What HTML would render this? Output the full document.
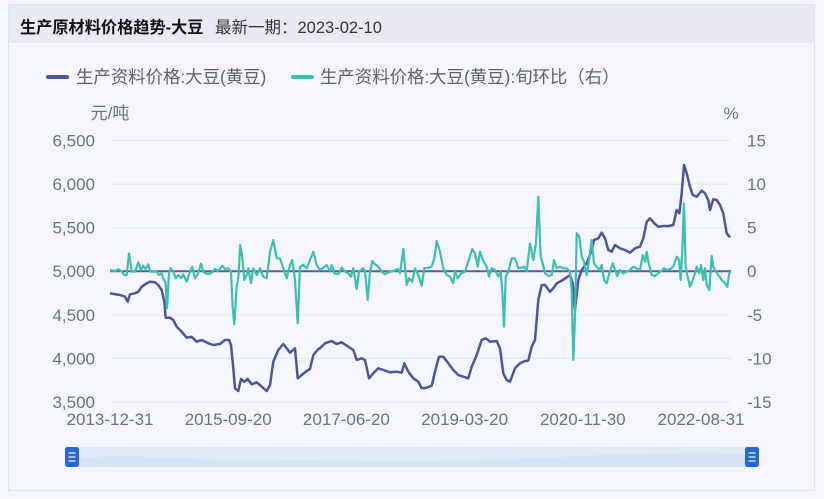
<!DOCTYPE html>
<html><head><meta charset="utf-8">
<style>
html,body{margin:0;padding:0;background:#f5f6fd;}
body{width:824px;height:499px;overflow:hidden;position:relative;font-family:"Liberation Sans","Noto Sans CJK SC",sans-serif;}
svg{position:absolute;left:0;top:0;}
text{font-family:"Liberation Sans","Noto Sans CJK SC",sans-serif;}
</style></head>
<body>
<svg width="824" height="499" viewBox="0 0 824 499" xmlns="http://www.w3.org/2000/svg">
<rect x="8.5" y="4.5" width="806" height="486" fill="#f6f7fe" stroke="#e2e4ee" stroke-width="1"/>
<rect x="9" y="5" width="805" height="38" fill="#e9eaf3"/>
<text x="20" y="33" font-size="16.2" font-weight="bold" fill="#111">生产原材料价格趋势-大豆</text>
<text x="215" y="33" font-size="16.5" fill="#333">最新一期：2023-02-10</text>

<!-- legend -->
<line x1="48" y1="77" x2="67" y2="77" stroke="#4e5499" stroke-width="4" stroke-linecap="round"/>
<text x="76" y="83" font-size="17.4" fill="#5f6068">生产资料价格:大豆(黄豆)</text>
<line x1="293" y1="77" x2="312" y2="77" stroke="#3cbfb1" stroke-width="4" stroke-linecap="round"/>
<text x="320" y="83" font-size="17.4" fill="#5f6068">生产资料价格:大豆(黄豆):旬环比（右）</text>

<text x="110" y="119" font-size="17" fill="#6e7079" text-anchor="middle">元/吨</text>
<text x="731" y="119" font-size="17" fill="#6e7079" text-anchor="middle">%</text>

<!-- grid -->
<g stroke="#e8e9f3" stroke-width="1.2">
<line x1="110" y1="140.5" x2="731" y2="140.5"/>
<line x1="110" y1="184.1" x2="731" y2="184.1"/>
<line x1="110" y1="227.7" x2="731" y2="227.7"/>
<line x1="110" y1="314.8" x2="731" y2="314.8"/>
<line x1="110" y1="358.4" x2="731" y2="358.4"/>
<line x1="110" y1="402" x2="731" y2="402"/>
</g>

<!-- left labels -->
<g font-size="17" fill="#6e7079" text-anchor="end">
<text x="95" y="146.5">6,500</text>
<text x="95" y="190.1">6,000</text>
<text x="95" y="233.7">5,500</text>
<text x="95" y="277.2">5,000</text>
<text x="95" y="320.8">4,500</text>
<text x="95" y="364.4">4,000</text>
<text x="95" y="408">3,500</text>
</g>
<!-- right labels -->
<g font-size="17" fill="#6e7079">
<text x="747" y="146.5">15</text>
<text x="747" y="190.1">10</text>
<text x="747" y="233.7">5</text>
<text x="747" y="277.2">0</text>
<text x="747" y="320.8">-5</text>
<text x="747" y="364.4">-10</text>
<text x="747" y="408">-15</text>
</g>
<!-- x labels -->
<g font-size="17" fill="#6e7079" text-anchor="middle">
<text x="110" y="425">2013-12-31</text>
<text x="228.2" y="425">2015-09-20</text>
<text x="346.4" y="425">2017-06-20</text>
<text x="464.6" y="425">2019-03-20</text>
<text x="582.8" y="425">2020-11-30</text>
<text x="701" y="425">2022-08-31</text>
</g>

<!-- zero line -->
<line x1="110" y1="271.2" x2="731" y2="271.2" stroke="#575d93" stroke-width="2"/>

<!-- price -->
<polyline fill="none" stroke="#4e5499" stroke-width="2.5" stroke-linejoin="round" points="110,293.3 120,295 125,296.7 127.7,301.7 130,294.3 135,293.3 138.3,291.7 141.7,286.7 146.7,283.3 150,281.7 155,282.3 158.3,285 161.7,290 164.3,301.7 165.7,317.7 170,317.7 173.3,320 176.7,326.7 181.7,331.7 186.7,337.7 191.7,336.7 196.7,341.7 201.7,340 208.3,343.3 213.3,345 220,344 225,340 229,340 231,345 233.3,368.3 235,388.3 238.3,391 241,379 244.3,381.7 247.7,379 251.7,384.3 256.7,382.3 261.7,386.7 266.7,391 270,385 273.3,361.7 278.3,350 283.3,344 286.7,348.3 290,352.7 295,348.3 297.7,378.3 301.7,375 306.7,371 310,369 313.3,355 318.3,349 320,348.3 325,343.3 331.7,341 336.7,344 341.7,342.3 348.3,346.7 353.3,350 356.7,360 361.7,358.3 365,360 369,378.3 373.3,373.3 378.3,368.3 383.3,370 390,372.3 396.7,371.7 401.7,372.7 404.3,363.3 408.3,371.7 413.3,378.3 418.3,381.7 421.7,388.3 426.7,387.7 431.7,385.7 435,371.7 439,356.7 443.3,356.7 448.3,363.3 453.3,370 458.3,375 463.3,376.7 468.3,378.3 471.7,366.7 476.7,355 481.7,340 485.7,338.3 490,341.7 496.7,341 500,348.3 503.3,373.3 506.7,380 510,381.7 515,368.3 520,363.3 525,361 528.3,360.7 531.7,346.7 535,340 538.3,300 541.7,285 545,285 550,291.7 553.3,288.3 556.7,283.3 561.7,280.7 566.7,277.3 570,275 572.7,283.3 575,310 578.3,280 581.7,270 586.7,263.3 591.7,250 594,240 598.3,238.3 601.7,232.7 605,238.3 608.3,250 611.7,251.7 615,245 620,248.3 625,250 630,252.7 635,248.3 640,246.7 643.3,238.3 646.7,221.7 650,218.3 655,224 658.3,226.7 663.3,226 668.3,226 673.3,225 676.7,210 679.3,213.3 681.7,193.3 684,165 686.7,173.3 690,186.7 692.7,195 696.7,196.7 701.7,190.7 705,193.3 708.3,200 710,210 713.3,199.3 716.7,200 720,205 723.3,213.3 726.7,233.3 730,237.3"/>

<!-- mom -->
<polyline fill="none" stroke="#3cbfb1" stroke-width="2.2" stroke-linejoin="round" points="110,270 115,271 118.3,269.3 121.7,271.7 124.3,275 126.7,275 129,253.3 131.7,271.7 135,271.7 138.3,262.3 141,270 143.3,265.7 145.7,269 148.3,264.3 150,271.7 153.3,271.7 156.7,271.7 159,275 161.7,273.3 163.3,278.3 165.7,283.3 167,308.3 169,273.3 170.7,268.3 173.3,271.7 175.7,278.3 178.3,275 181,278.3 183.3,274.3 186.7,281.7 190,271.7 192.3,266.7 195,278.3 198.3,273.3 201,263.3 203.3,271.7 206.7,274 211,273.3 215,269 218.3,271 222.3,265.7 225,269 228.3,268.3 231,271.7 232.7,308.3 234.3,324.3 236.7,286.7 238.3,278.3 240.3,245 242.3,258.3 244.3,280 246.7,275 248.3,268.3 251,283.3 253.3,268.3 256.7,275 260,268.3 263.3,276.7 266.7,278.3 270,251.7 273.3,240 276.7,258.3 280,258.3 283.3,268.3 286.7,278.3 290,265 292.3,260 295,280 297.7,323.3 300,266.7 303.3,265 306.7,268.3 310,260 313.3,251.7 316.7,265 320,270 323.3,267.7 326.7,265 330,271 331.7,265 334.3,273.3 338.3,274.3 341.7,267.7 345,271.7 348.3,273.3 351,276.7 353.3,268.3 356.7,289 359,271.7 363.3,268.3 365,271.7 367.7,300 370,271.7 372.3,261 375,264.3 378.3,266.7 381.7,271.7 385,274.3 388.3,272.3 393.3,271 397.7,269 400,273.3 403.3,249 406.7,285 409,278.3 412.3,281.7 415,268.3 418.3,275 421.7,285.7 424.3,268.3 428.3,267.7 431.7,266.7 434.3,258.3 436.7,241 440,251.7 443.3,268.3 446.7,275 450,276.7 453.3,283.3 455,271.7 457.7,278.3 461,273.3 465,271.7 468.3,261.7 472.3,249 475,253.3 477.7,266.7 480,251.7 483.3,261 486.7,266.7 489,276.7 491.7,268.3 495,270 498.3,276.7 500.7,271.7 502.3,291.7 504,326.7 505.7,276.7 508.3,271.7 511.7,258.3 515,258.3 518.3,268.3 521,267.7 524.3,266.7 526.7,271 530,243.3 533.3,260 536,243.3 538.3,196.7 540.7,256.7 542.7,263.3 545,273.3 548.3,276 551.7,275 554,260 556.7,268.3 560,266.7 563.3,268.3 566.7,268.3 570,271.7 571.7,290 573.3,360 575,316.7 576.7,233.3 579.3,236.7 581.7,256.7 584,261.7 586.7,275 589,260 591.7,240 594,263.3 596.7,266.7 599.3,270 601.7,265 604,280 606.7,283.3 609.3,273.3 612.7,263.3 615,270 617.3,276 620,270 623.3,273.3 626.7,271.7 630,270 633.3,266.7 636.7,268.3 640,270 642.7,255 645,261.7 646.7,251.7 648.3,261.7 651.7,275 655,276 658.3,273.3 661.7,270.7 664,268.3 666.7,270 670,269.3 673.3,266.7 676.7,256.7 679,260 680.7,280 682.3,250 684,203.3 685.7,266.7 687.3,275 690,286.7 692.7,280 695,273.3 696.7,266.7 699.3,273.3 701,265 703.3,280 705,268.3 706.7,285 709.3,290 711.7,256 713.3,266.7 716,271.7 718.3,275 721.7,280 725,283.3 727.3,286.7 729.3,273.3 730.7,271.7"/>

<!-- dataZoom slider -->
<rect x="72" y="447" width="680" height="20" fill="#e1e9f8"/>
<polygon fill="#d8e3f5" points="72,467 72,458 100,457 130,456 160,458 200,459 240,461 280,460 320,460 360,461 400,461 440,461 480,460 520,459 560,457 600,455 640,455 680,453 700,452 720,453 752,455 752,467"/>
<rect x="65" y="447" width="14" height="20" rx="2.5" fill="#2468d8"/>
<g stroke="#ffffff" stroke-width="1.2">
<line x1="68.5" y1="453" x2="75.5" y2="453"/><line x1="68.5" y1="457" x2="75.5" y2="457"/><line x1="68.5" y1="461" x2="75.5" y2="461"/>
</g>
<rect x="745" y="447" width="14" height="20" rx="2.5" fill="#2468d8"/>
<g stroke="#ffffff" stroke-width="1.2">
<line x1="748.5" y1="453" x2="755.5" y2="453"/><line x1="748.5" y1="457" x2="755.5" y2="457"/><line x1="748.5" y1="461" x2="755.5" y2="461"/>
</g>
</svg>
</body></html>
